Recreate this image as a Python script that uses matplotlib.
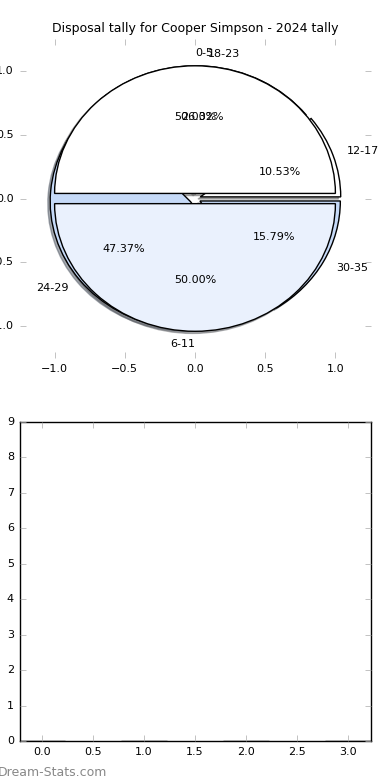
import matplotlib
matplotlib.use("Agg")
import matplotlib.pyplot as plt

plt.style.use('classic')
plt.rcParams['font.family'] = ['DejaVu Sans']
plt.rcParams['font.size'] = 8

# Data
title = "Disposal tally for Cooper Simpson - 2024 tally"
labels_a = ["12-17", "18-23", "24-29", "30-35"]
values_a = [2, 5, 9, 3]
colors_a = ["white", "white", "#c6daf8", "#c6daf8"]
labels_b = ["0-5", "6-11"]
values_b = [1, 1]
colors_b = ["white", "#eaf1fd"]
bar_x = [0, 1, 2, 3]
bar_h = [0, 0, 0, 0]

fig = plt.figure(figsize=(3.9, 7.8), dpi=100)
fig.subplots_adjust(left=0.05, right=0.95, bottom=0.05, top=0.95, hspace=0.2)

shadow_style = {'ox': -0.012, 'oy': -0.012, 'shade': 0.6}

ax1 = fig.add_subplot(2, 1, 1)
ax1.pie(values_a, labels=labels_a, colors=colors_a, autopct='%1.2f%%',
        explode=[0.04] * len(values_a), shadow=shadow_style, startangle=0)
wb, tb, ab = ax1.pie(values_b, labels=labels_b, colors=colors_b, autopct='%1.2f%%',
                     explode=[0.04] * len(values_b), shadow=shadow_style, startangle=0)
tb[0].set_horizontalalignment('left')
tb[1].set_horizontalalignment('right')
ax1.set_aspect('auto')
ax1.set_xlim(-1.25, 1.25)
ax1.set_ylim(-1.25, 1.25)
ax1.set_xticks([-1.0, -0.5, 0.0, 0.5, 1.0])
ax1.set_yticks([-1.0, -0.5, 0.0, 0.5, 1.0])
ax1.set_frame_on(False)
ax1.tick_params(color='#aaaaaa')
ax1.set_title(title, fontsize=9)

ax2 = fig.add_subplot(2, 1, 2)
ax2.bar(bar_x, bar_h, width=0.45, align='center', color='#c6daf8')
ax2.set_xlim(-0.225, 3.225)
ax2.set_ylim(0, 9)
ax2.tick_params(color='#aaaaaa')

fig.text(-0.005, 0.005, "Dream-Stats.com", color='#888888', fontsize=9)

fig.savefig("out.png", dpi=100)
